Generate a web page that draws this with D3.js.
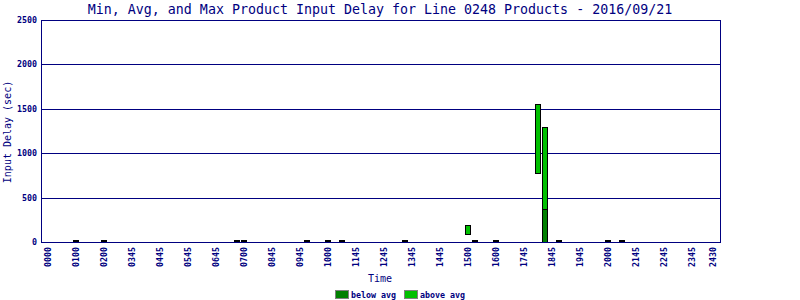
<!DOCTYPE html>
<html>
<head>
<meta charset="utf-8">
<script src="https://cdn.jsdelivr.net/npm/d3@7"></script>
<style>
  body { margin: 0; background: #fff; }
  text { font-family: "DejaVu Sans Mono", monospace; fill: #000080; }
</style>
</head>
<body>
<svg id="chart" width="800" height="300"></svg>
<script>
// 15 minute bins (hour of day) and the min / avg / max input delay in seconds
var binHours = [1.0, 2.0, 6.75, 7.0, 9.25, 10.0, 10.5, 12.75, 15.0, 15.25, 16.0, 17.5, 17.75, 18.25, 20.0, 20.5];
var minVals  = [0, 0, 0, 0, 0, 0, 0, 0, 85, 0, 0, 775, 0, 0, 0, 0];
var avgVals  = [10, 10, 10, 10, 10, 10, 10, 10, 85, 10, 10, 775, 370, 10, 10, 10];
var maxVals  = [20, 20, 20, 20, 20, 20, 20, 20, 190, 20, 20, 1550, 1290, 20, 20, 20];

var tickLabels = ["0000","0100","0200","0345","0445","0545","0645","0700","0845","0945","1000","1145",
                  "1245","1345","1445","1500","1600","1745","1845","1945","2000","2145","2245","2345","2430"];
var tickHours  = [0,1,2,3,4,5,6,7,8,9,10,11,12,13,14,15,16,17,18,19,20,21,22,23,23.75];
var yTicks = [0, 500, 1000, 1500, 2000, 2500];

var navy = "#000080";
var belowColor = "#008000";
var aboveColor = "#00c000";

var svg = d3.select("#chart");
var plotLeft = 41, plotRight = 720, plotTop = 20, plotBottom = 242;

var x = d3.scaleLinear().domain([-0.25, 24]).range([plotLeft, plotRight]);
var y = d3.scaleLinear().domain([0, 2500]).range([plotBottom, plotTop]);

// title
svg.append("text")
    .attr("x", 380).attr("y", 14)
    .attr("text-anchor", "middle")
    .style("font-size", "13.3px")
    .text("Min, Avg, and Max Product Input Delay for Line 0248 Products - 2016/09/21");

// grid lines
var grid = svg.append("g").attr("shape-rendering", "crispEdges");
grid.selectAll("line").data(yTicks.slice(1)).enter().append("line")
    .attr("x1", plotLeft).attr("x2", plotRight)
    .attr("y1", function(d) { return Math.round(y(d)) + 0.5; })
    .attr("y2", function(d) { return Math.round(y(d)) + 0.5; })
    .attr("stroke", navy);

// right border
grid.append("line")
    .attr("x1", plotRight + 0.5).attr("x2", plotRight + 0.5)
    .attr("y1", plotTop).attr("y2", plotBottom)
    .attr("stroke", navy);

// bars: below avg part (min -> avg) and above avg part (avg -> max)
var bars = svg.append("g").attr("shape-rendering", "crispEdges");
var bw = 5;
binHours.forEach(function(h, i) {
  var cx = Math.round(x(h));
  var yMin = Math.round(y(minVals[i])), yAvg = Math.round(y(avgVals[i])), yMax = Math.round(y(maxVals[i]));
  if (yMin > yAvg) {
    bars.append("rect")
        .attr("x", cx - 3 + 0.5).attr("y", yAvg + 0.5)
        .attr("width", bw).attr("height", yMin - yAvg)
        .attr("fill", belowColor).attr("stroke", "#000");
  }
  if (yAvg > yMax) {
    bars.append("rect")
        .attr("x", cx - 3 + 0.5).attr("y", yMax + 0.5)
        .attr("width", bw).attr("height", yAvg - yMax)
        .attr("fill", aboveColor).attr("stroke", "#000");
  }
});

// axes lines
var axes = svg.append("g").attr("shape-rendering", "crispEdges");
axes.append("line")
    .attr("x1", plotLeft + 0.5).attr("x2", plotLeft + 0.5)
    .attr("y1", plotTop).attr("y2", plotBottom + 1)
    .attr("stroke", navy);
axes.append("line")
    .attr("x1", plotLeft).attr("x2", plotRight + 1)
    .attr("y1", plotBottom + 0.5).attr("y2", plotBottom + 0.5)
    .attr("stroke", navy);

// y tick labels
svg.append("g").selectAll("text").data(yTicks).enter().append("text")
    .attr("x", 37)
    .attr("y", function(d) { return y(d); })
    .attr("dy", "0.35em")
    .attr("text-anchor", "end")
    .style("font-size", "8.3px").style("font-weight", "bold")
    .text(function(d) { return d; });

// x tick labels (rotated)
svg.append("g").selectAll("text").data(tickHours).enter().append("text")
    .attr("transform", function(d) { return "translate(" + x(d) + ",247) rotate(-90)"; })
    .attr("dy", "0.35em")
    .attr("text-anchor", "end")
    .style("font-size", "8.3px").style("font-weight", "bold")
    .text(function(d, i) { return tickLabels[i]; });

// axis titles
svg.append("text")
    .attr("transform", "translate(11,132) rotate(-90)")
    .attr("text-anchor", "middle")
    .style("font-size", "10px")
    .text("Input Delay (sec)");

svg.append("text")
    .attr("x", 380).attr("y", 282)
    .attr("text-anchor", "middle")
    .style("font-size", "10px")
    .text("Time");

// legend
var legendItems = [
  { label: "below avg", color: belowColor, x: 335 },
  { label: "above avg", color: aboveColor, x: 404 }
];
var legend = svg.append("g").attr("shape-rendering", "crispEdges");
legendItems.forEach(function(d) {
  legend.append("rect")
      .attr("x", d.x + 0.5).attr("y", 290.5)
      .attr("width", 13).attr("height", 8)
      .attr("fill", d.color).attr("stroke", "#808080");
  legend.append("text")
      .attr("x", d.x + 16).attr("y", 298)
      .style("font-size", "8.3px").style("font-weight", "bold")
      .text(d.label);
});
</script>
</body>
</html>
